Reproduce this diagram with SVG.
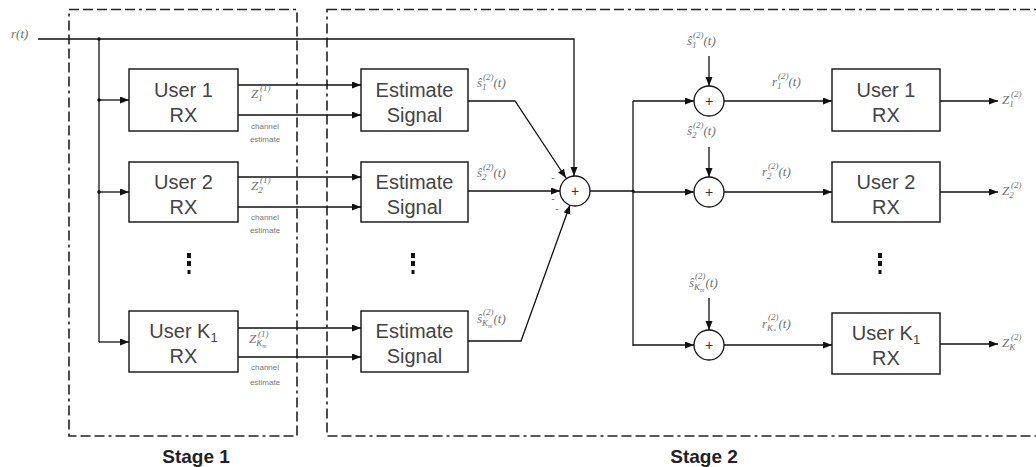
<svg xmlns="http://www.w3.org/2000/svg" width="1036" height="467" viewBox="0 0 1036 467">
<style>
.stage{fill:none;stroke:#222;stroke-width:1.6;stroke-dasharray:10 4 10 4 10 4 10 4 10 4 3 4}
.box{fill:#fff;stroke:#111;stroke-width:1.4}
.sum{fill:#fff;stroke:#111;stroke-width:1.3}
.lbl{font-family:"Liberation Sans",Arial,sans-serif;font-size:20px;fill:#444;text-anchor:middle}
.stg{font-family:"Liberation Sans",Arial,sans-serif;font-size:19px;font-weight:bold;fill:#222;text-anchor:middle}
.m{font-family:"Liberation Serif","Times New Roman",serif;font-style:italic;font-size:13px;fill:#707070}
.s{font-size:9px}
.ss{font-size:6px}
.ce{font-family:"Liberation Sans",Arial,sans-serif;font-size:8px;fill:#777;text-anchor:middle}
.plus{font-family:"Liberation Sans",Arial,sans-serif;font-size:14px;fill:#333;text-anchor:middle}
.minus{font-family:"Liberation Sans",Arial,sans-serif;font-size:10px;fill:#666;text-anchor:middle}
.w{fill:none;stroke:#111;stroke-width:1.3}
.a{marker-end:url(#ah)}
.dot{fill:#111}
</style>
<defs>
<marker id="ah" markerUnits="userSpaceOnUse" markerWidth="10" markerHeight="8" refX="9" refY="3.5" orient="auto">
<path d="M0,0 L9,3.5 L0,7 z" fill="#111"/>
</marker>
</defs>
<rect width="1036" height="467" fill="#fff"/>

<g id="stage1">
<rect class="stage" x="69" y="9.5" width="228" height="426.5"/>
<text class="stg" x="196" y="463">Stage 1</text>
</g>
<g id="stage2">
<rect class="stage" x="327" y="9.5" width="730" height="426.5"/>
<text class="stg" x="704" y="463">Stage 2</text>
</g>

<g id="input">
<text class="m" x="11" y="38">r(t)</text>
</g>

<g id="connectors">
<path class="w a" d="M38,39 H574 V176"/>
<path class="w" d="M99,39 V342"/>
<path class="w a" d="M99,100 H129"/>
<path class="w a" d="M99,192 H129"/>
<path class="w a" d="M99,342 H129"/>
<path class="w a" d="M238,85 H361"/>
<path class="w a" d="M238,115 H361"/>
<path class="w a" d="M238,177 H361"/>
<path class="w a" d="M238,207 H361"/>
<path class="w a" d="M238,328 H361"/>
<path class="w a" d="M238,357 H361"/>
<path class="w a" d="M468,101 H515 L566,178"/>
<path class="w a" d="M468,191 H560"/>
<path class="w a" d="M468,341 H521 L570,205"/>
<path class="w" d="M590,191 H633"/>
<path class="w" d="M633,101 V346"/>
<path class="w a" d="M633,101 H694"/>
<path class="w a" d="M633,192 H694"/>
<path class="w a" d="M633,345 H694"/>
<path class="w a" d="M709,56 V86"/>
<path class="w a" d="M709,147 V177"/>
<path class="w a" d="M709,298 V330"/>
<path class="w a" d="M724,101 H832"/>
<path class="w a" d="M724,192 H832"/>
<path class="w a" d="M724,345 H832"/>
<path class="w a" d="M940,101 H998"/>
<path class="w a" d="M940,192 H998"/>
<path class="w a" d="M940,344 H998"/>
<circle class="dot" cx="99" cy="39" r="1.8"/>
<circle class="dot" cx="99" cy="100" r="1.8"/>
<circle class="dot" cx="99" cy="192" r="1.8"/>
<circle class="dot" cx="633" cy="191" r="1.5"/>
</g>

<g id="rx1-1">
<rect class="box" x="129" y="69" width="109" height="62"/>
<text class="lbl" x="183.5" y="97">User 1</text>
<text class="lbl" x="183.5" y="122">RX</text>
</g>
<g id="rx1-2">
<rect class="box" x="129" y="162" width="109" height="60"/>
<text class="lbl" x="183.5" y="189">User 2</text>
<text class="lbl" x="183.5" y="214">RX</text>
</g>
<g id="rx1-k">
<rect class="box" x="129" y="311" width="109" height="61"/>
<text class="lbl" x="183.5" y="338">User K<tspan font-size="13" dy="4">1</tspan></text>
<text class="lbl" x="183.5" y="363">RX</text>
</g>

<g id="stage1-labels">
<text class="m" x="251" y="98">Z<tspan class="s" dy="3">1</tspan><tspan class="s" x="260" dy="-10">(1)</tspan></text>
<text class="ce" x="265" y="129">channel</text>
<text class="ce" x="265" y="142">estimate</text>
<text class="m" x="251" y="190">Z<tspan class="s" dy="3">2</tspan><tspan class="s" x="260" dy="-10">(1)</tspan></text>
<text class="ce" x="265" y="220">channel</text>
<text class="ce" x="265" y="233">estimate</text>
<text class="m" x="249" y="343">Z<tspan class="s" dy="3">K</tspan><tspan class="ss" dy="2">m</tspan><tspan class="s" x="258" dy="-11">(1)</tspan></text>
<text class="ce" x="265" y="370">channel</text>
<text class="ce" x="265" y="385">estimate</text>
</g>

<g id="dots1">
<rect class="dot" x="187" y="253" width="4" height="5"/>
<rect class="dot" x="187" y="261" width="4" height="5"/>
<rect class="dot" x="187.5" y="270" width="3" height="4"/>
</g>
<g id="dots2">
<rect class="dot" x="411" y="253" width="4" height="5"/>
<rect class="dot" x="411" y="261" width="4" height="5"/>
<rect class="dot" x="411.5" y="270" width="3" height="4"/>
</g>
<g id="dots3">
<rect class="dot" x="878" y="253" width="4" height="5"/>
<rect class="dot" x="878" y="261" width="4" height="5"/>
<rect class="dot" x="878.5" y="270" width="3" height="4"/>
</g>

<g id="est-1">
<rect class="box" x="361" y="69" width="107" height="62"/>
<text class="lbl" x="414.5" y="97">Estimate</text>
<text class="lbl" x="414.5" y="122">Signal</text>
</g>
<g id="est-2">
<rect class="box" x="361" y="162" width="107" height="60"/>
<text class="lbl" x="414.5" y="189">Estimate</text>
<text class="lbl" x="414.5" y="214">Signal</text>
</g>
<g id="est-k">
<rect class="box" x="361" y="311" width="107" height="61"/>
<text class="lbl" x="414.5" y="338">Estimate</text>
<text class="lbl" x="414.5" y="363">Signal</text>
</g>

<g id="est-labels">
<text class="m" x="477" y="87">ŝ<tspan class="s" dy="3">1</tspan><tspan class="s" x="483" dy="-10">(2)</tspan><tspan dy="7">(t)</tspan></text>
<text class="m" x="477" y="177">ŝ<tspan class="s" dy="3">2</tspan><tspan class="s" x="483" dy="-10">(2)</tspan><tspan dy="7">(t)</tspan></text>
<text class="m" x="477" y="323">ŝ<tspan class="s" dy="3">K</tspan><tspan class="ss" dy="2">m</tspan><tspan class="s" x="483" dy="-13">(2)</tspan><tspan dy="8">(t)</tspan></text>
</g>

<g id="sum-main">
<circle class="sum" cx="575" cy="191" r="15"/>
<text class="plus" x="575" y="196">+</text>
<text class="minus" x="553" y="181">-</text>
<text class="minus" x="553" y="202">-</text>
<text class="minus" x="557" y="212">-</text>
</g>

<g id="sum-1">
<circle class="sum" cx="709" cy="101" r="15"/>
<text class="plus" x="709" y="106">+</text>
<text class="m" x="687" y="45">ŝ<tspan class="s" dy="3">1</tspan><tspan class="s" x="693" dy="-10">(2)</tspan><tspan dy="7">(t)</tspan></text>
</g>
<g id="sum-2">
<circle class="sum" cx="709" cy="192" r="15"/>
<text class="plus" x="709" y="197">+</text>
<text class="m" x="687" y="135">ŝ<tspan class="s" dy="3">2</tspan><tspan class="s" x="693" dy="-10">(2)</tspan><tspan dy="7">(t)</tspan></text>
</g>
<g id="sum-k">
<circle class="sum" cx="709" cy="345" r="15"/>
<text class="plus" x="709" y="350">+</text>
<text class="m" x="689" y="287">ŝ<tspan class="s" dy="3">K</tspan><tspan class="ss" dy="2">m</tspan><tspan class="s" x="695" dy="-13">(2)</tspan><tspan dy="8">(t)</tspan></text>
</g>

<g id="r-labels">
<text class="m" x="772" y="86">r<tspan class="s" dy="3">1</tspan><tspan class="s" x="778" dy="-10">(2)</tspan><tspan dy="7">(t)</tspan></text>
<text class="m" x="762" y="176">r<tspan class="s" dy="3">2</tspan><tspan class="s" x="768" dy="-10">(2)</tspan><tspan dy="7">(t)</tspan></text>
<text class="m" x="762" y="328">r<tspan class="s" dy="3">K</tspan><tspan class="ss" dy="2">*</tspan><tspan class="s" x="768" dy="-13">(2)</tspan><tspan dy="8">(t)</tspan></text>
</g>

<g id="rx2-1">
<rect class="box" x="832" y="69" width="108" height="62"/>
<text class="lbl" x="886" y="97">User 1</text>
<text class="lbl" x="886" y="122">RX</text>
<text class="m" x="1002" y="104">Z<tspan class="s" dy="3">1</tspan><tspan class="s" x="1011" dy="-10">(2)</tspan></text>
</g>
<g id="rx2-2">
<rect class="box" x="832" y="162" width="108" height="60"/>
<text class="lbl" x="886" y="189">User 2</text>
<text class="lbl" x="886" y="214">RX</text>
<text class="m" x="1002" y="195">Z<tspan class="s" dy="3">2</tspan><tspan class="s" x="1011" dy="-10">(2)</tspan></text>
</g>
<g id="rx2-k">
<rect class="box" x="832" y="313" width="108" height="61"/>
<text class="lbl" x="886" y="340">User K<tspan font-size="13" dy="4">1</tspan></text>
<text class="lbl" x="886" y="365">RX</text>
<text class="m" x="1002" y="347">Z<tspan class="s" dy="3">K</tspan><tspan class="s" x="1011" dy="-10">(2)</tspan></text>
</g>
</svg>
